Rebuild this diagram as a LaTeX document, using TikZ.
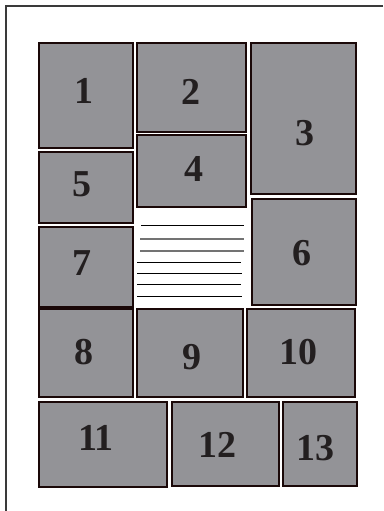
\documentclass[tikz,border=0pt]{standalone}
\usepackage{fontspec}
\setmainfont{Liberation Serif}
\definecolor{panelgray}{HTML}{939397}
\definecolor{paneledge}{HTML}{1A0808}
\definecolor{framegray}{HTML}{3A3A3A}
\definecolor{numink}{HTML}{231F20}
\tikzset{
  panel/.style={fill=panelgray,draw=paneledge,line width=2.2pt},
  num/.style={font=\fontsize{38}{38}\selectfont\bfseries,text=numink},
  rule/.style={line width=0.9pt,black},
  greyrule/.style={line width=1.3pt,black!55}
}
\begin{document}
\begin{tikzpicture}[x=1pt,y=-1pt]
\useasboundingbox (0,0) rectangle (383,511);
\draw[framegray,line width=2pt] (383,6) -- (6,6) -- (6,511);
% panels
\draw[panel] (39,43) rectangle (133,148);
\draw[panel] (137,43) rectangle (246,132);
\draw[panel] (251,43) rectangle (356,194);
\draw[panel] (137,135) rectangle (246,207);
\draw[panel] (39,152) rectangle (133,223);
\draw[panel] (252,199) rectangle (356,305);
\draw[panel] (39,227) rectangle (133,307);
\draw[panel] (39,309) rectangle (133,397);
\draw[panel] (137,309) rectangle (243,397);
\draw[panel] (247,309) rectangle (355,397);
\draw[panel] (39,402) rectangle (167,487);
\draw[panel] (172,402) rectangle (279,486);
\draw[panel] (283,402) rectangle (357,486);
% text lines
\draw[rule] (141,225) -- (244,225);
\draw[greyrule] (140,239) -- (244,239);
\draw[greyrule] (140,251) -- (244,251);
\draw[rule] (137,262) -- (241,262);
\draw[rule] (137,273) -- (242,273);
\draw[rule] (137,284) -- (241,284);
\draw[rule] (137,296) -- (242,296);
% numbers
\node[num] (n1) at (84,91) {1};
\node[num] (n2) at (191,92) {2};
\node[num] (n3) at (305,133) {3};
\node[num] (n4) at (194,169) {4};
\node[num] (n5) at (82,184) {5};
\node[num] (n6) at (302,253) {6};
\node[num] (n7) at (82,263) {7};
\node[num] (n8) at (84,352) {8};
\node[num] (n9) at (192,357) {9};
\node[num] (n10) at (298,352) {10};
\node[num] (n11) at (96,438) {11};
\node[num] (n12) at (217,445) {12};
\node[num] (n13) at (315,448) {13};
\end{tikzpicture}
\end{document}
